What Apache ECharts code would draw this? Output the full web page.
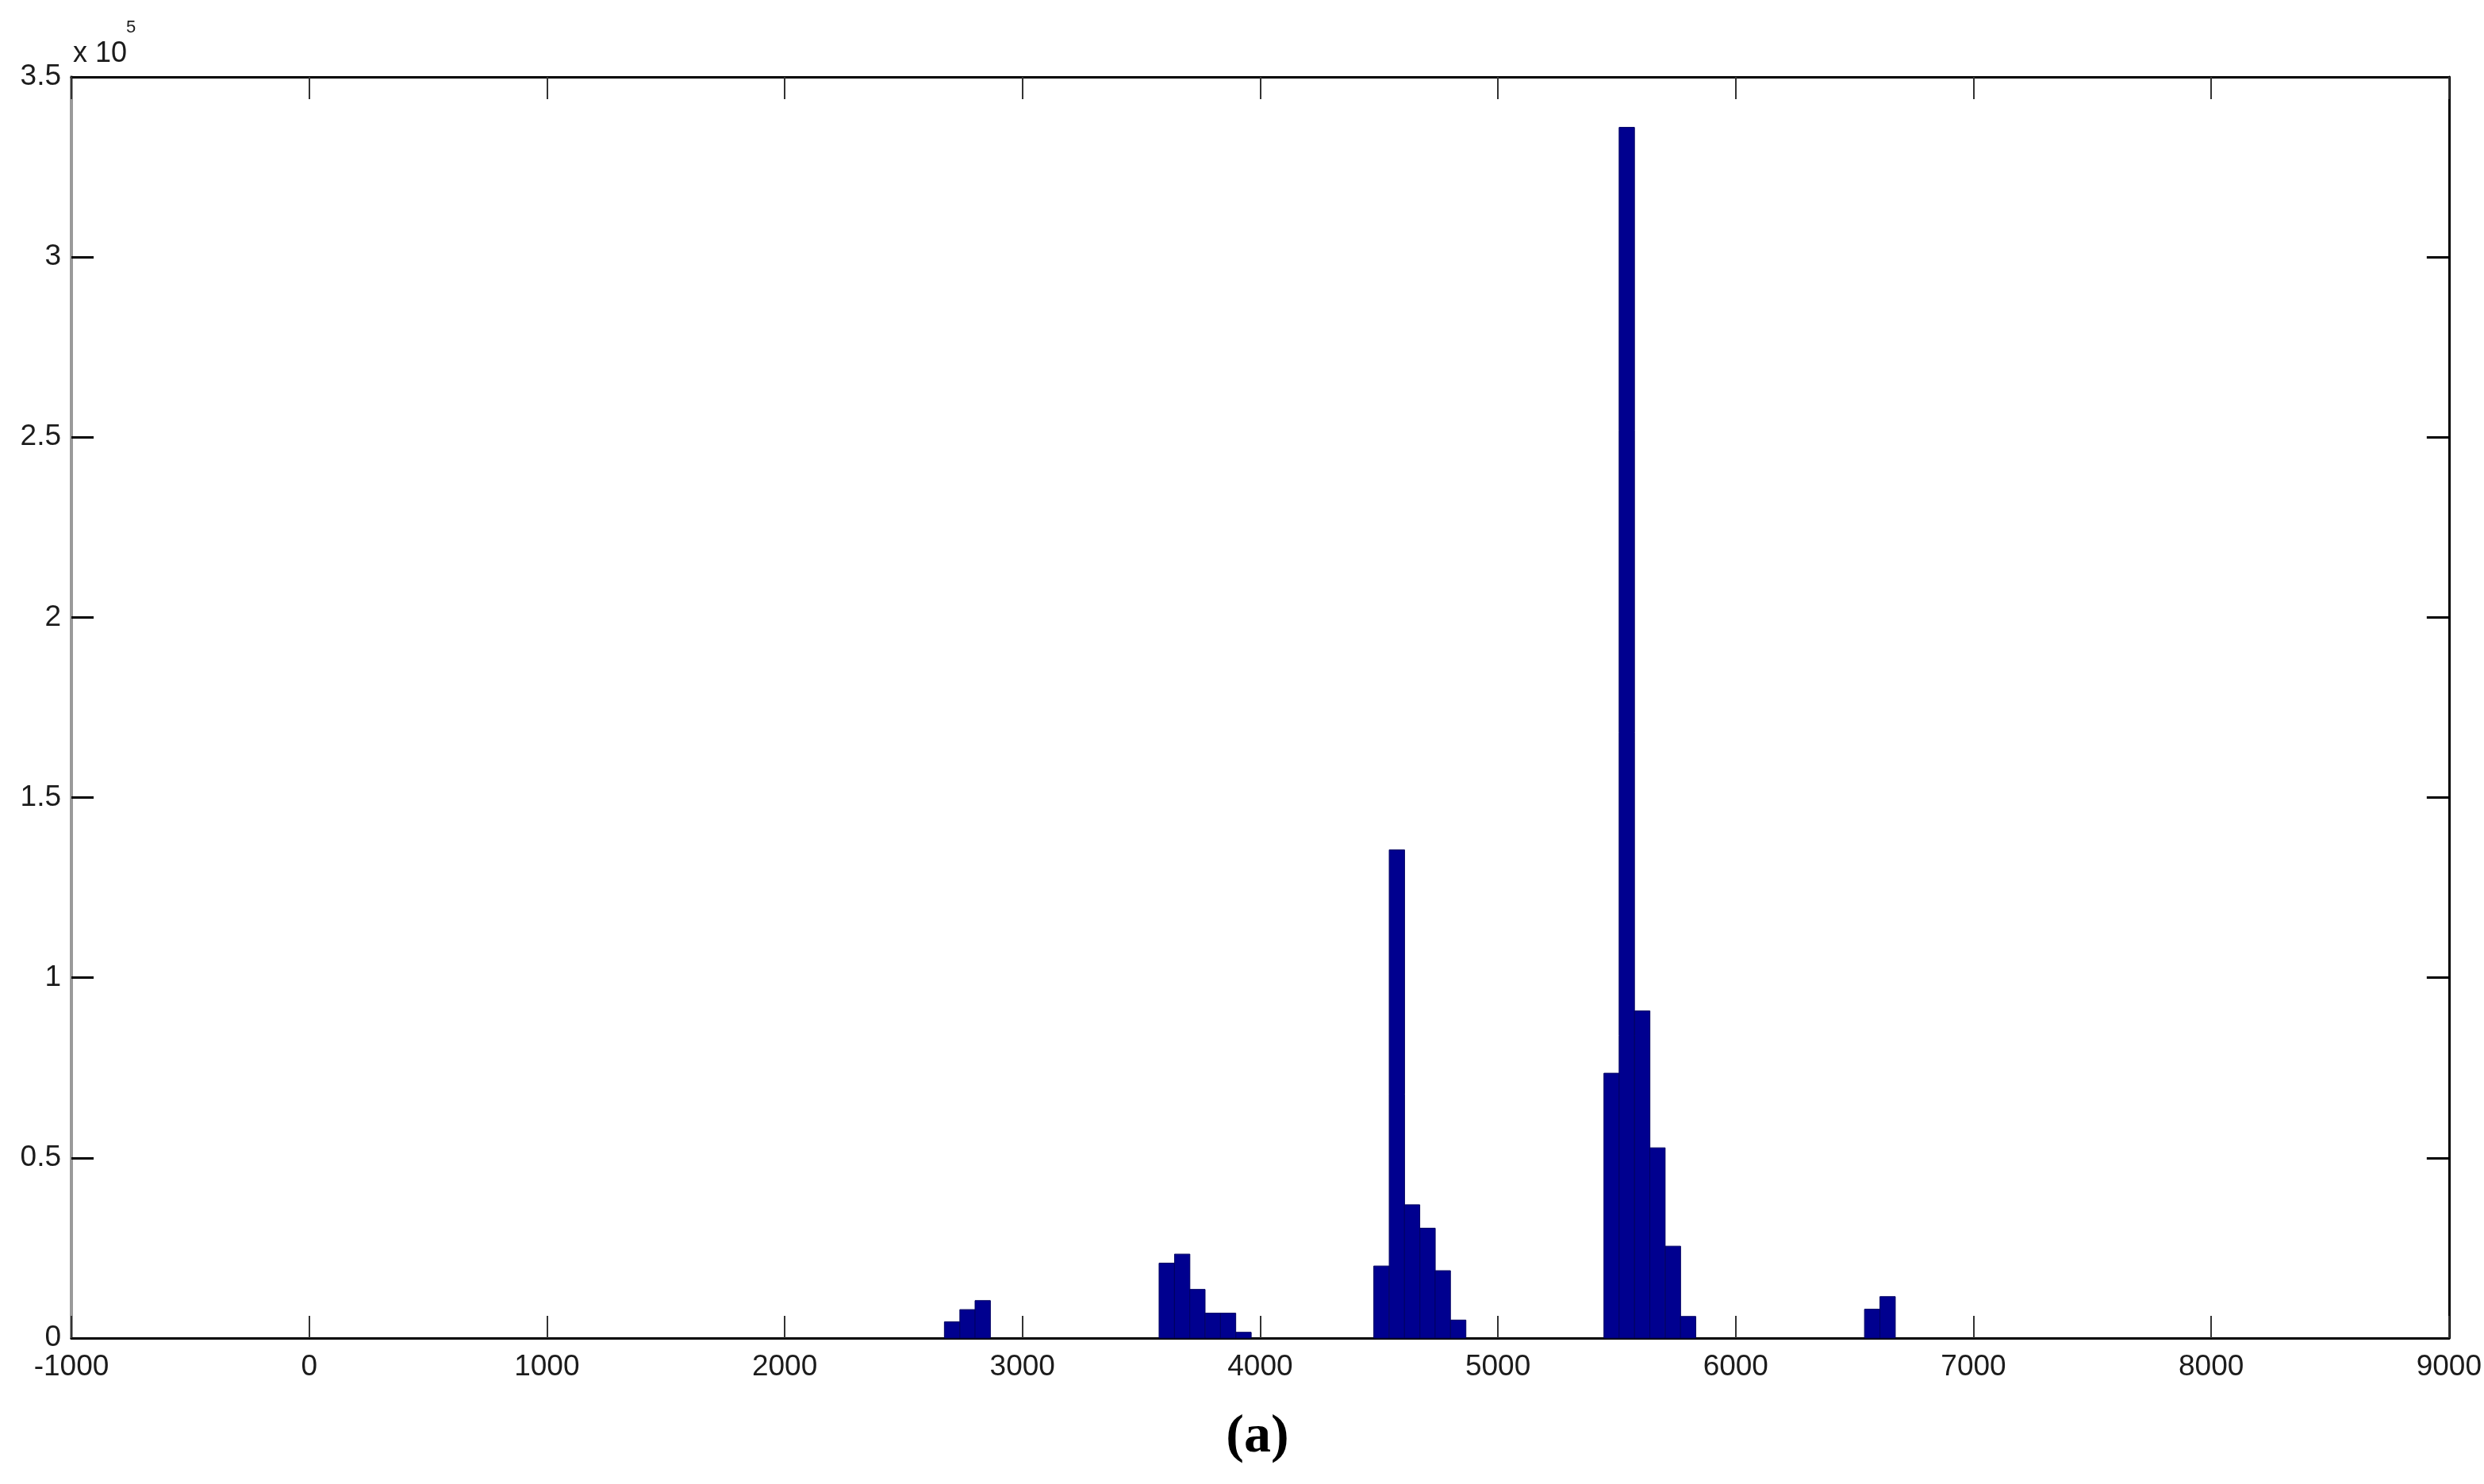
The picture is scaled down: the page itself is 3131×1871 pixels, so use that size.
<!DOCTYPE html>
<html>
<head>
<meta charset="utf-8">
<script src="https://cdn.jsdelivr.net/npm/echarts@6/dist/echarts.min.js"></script>
<style>
  html, body { margin: 0; padding: 0; background: #fff; }
  #chart { width: 3131px; height: 1871px; }
</style>
</head>
<body>
<div id="chart"></div>
<script>
// histogram bins (bin centres and counts)
const binWidth = 64.5
const binCenters = [
  2704, 2769, 2833,
  3607, 3672, 3736, 3801, 3865, 3930,
  4510, 4575, 4639, 4704, 4768, 4833,
  5478, 5542, 5607, 5671, 5736, 5800,
  6574, 6639
]
const counts = [
  4500, 7900, 10400,
  20800, 23300, 13500, 6900, 6900, 1600,
  20000, 135500, 37000, 30500, 18700, 5000,
  73500, 336000, 90800, 52800, 25500, 6000,
  8000, 11500
]
const xTicks = { min: -1000, max: 9000, step: 1000 }
const yTicks = { min: 0, max: 350000, step: 50000, scale: 1e5 }

const chart = echarts.init(document.getElementById('chart'))

const labelFont = {
  fontFamily: 'Liberation Sans, Arial, sans-serif',
  fontSize: 37,
  color: '#1c1c1c'
}

const xBase = {
  type: 'value',
  min: xTicks.min,
  max: xTicks.max,
  interval: xTicks.step,
  splitLine: { show: false },
  axisLine: { onZero: false, lineStyle: { color: '#000', width: 3 } },
  axisTick: { inside: true, length: 28, lineStyle: { color: '#333', width: 2 } }
}
const yBase = {
  type: 'value',
  min: yTicks.min,
  max: yTicks.max,
  interval: yTicks.step,
  splitLine: { show: false },
  axisLine: { show: true, onZero: false, lineStyle: { color: '#000', width: 3 } },
  axisTick: { show: true, inside: true, length: 28, lineStyle: { color: '#000', width: 3 } }
}

const option = {
  backgroundColor: '#fff',
  animation: false,
  grid: { left: 90, right: 44, top: 97, bottom: 184 },
  xAxis: [
    Object.assign({}, xBase, {
      position: 'bottom',
      axisLabel: Object.assign({ margin: 18, formatter: v => String(v) }, labelFont)
    }),
    Object.assign({}, xBase, {
      position: 'top',
      axisLabel: { show: false }
    })
  ],
  yAxis: [
    Object.assign({}, yBase, {
      position: 'left',
      axisLine: { show: true, onZero: false, lineStyle: { color: '#9a9a9a', width: 4 } },
      axisLabel: Object.assign({
        margin: 13,
        formatter: v => String(v / yTicks.scale)
      }, labelFont)
    }),
    Object.assign({}, yBase, {
      position: 'right',
      axisLabel: { show: false }
    })
  ],
  series: [
    {
      type: 'custom',
      xAxisIndex: 0,
      yAxisIndex: 0,
      data: binCenters.map((c, i) => [c, counts[i]]),
      encode: { x: 0, y: 1 },
      renderItem: (params, api) => {
        const c = api.value(0)
        const h = api.value(1)
        const p0 = api.coord([c - binWidth / 2, 0])
        const p1 = api.coord([c + binWidth / 2, h])
        return {
          type: 'rect',
          shape: { x: p0[0], y: p1[1], width: p1[0] - p0[0], height: p0[1] - p1[1] },
          style: { fill: '#00008f', stroke: '#000060', lineWidth: 1 }
        }
      }
    }
  ],
  graphic: [
    {
      type: 'text', left: 92, top: 50,
      style: { text: 'x 10', font: '36px Liberation Sans, Arial, sans-serif', fill: '#1c1c1c' }
    },
    {
      type: 'text', left: 159, top: 24,
      style: { text: '5', font: '22px Liberation Sans, Arial, sans-serif', fill: '#1c1c1c' }
    },
    {
      type: 'text', x: 1585, y: 1812,
      style: {
        text: '(a)', font: 'bold 68px Liberation Serif, Times New Roman, serif',
        fill: '#000', align: 'center', verticalAlign: 'middle'
      }
    }
  ]
}

chart.setOption(option)
</script>
</body>
</html>
